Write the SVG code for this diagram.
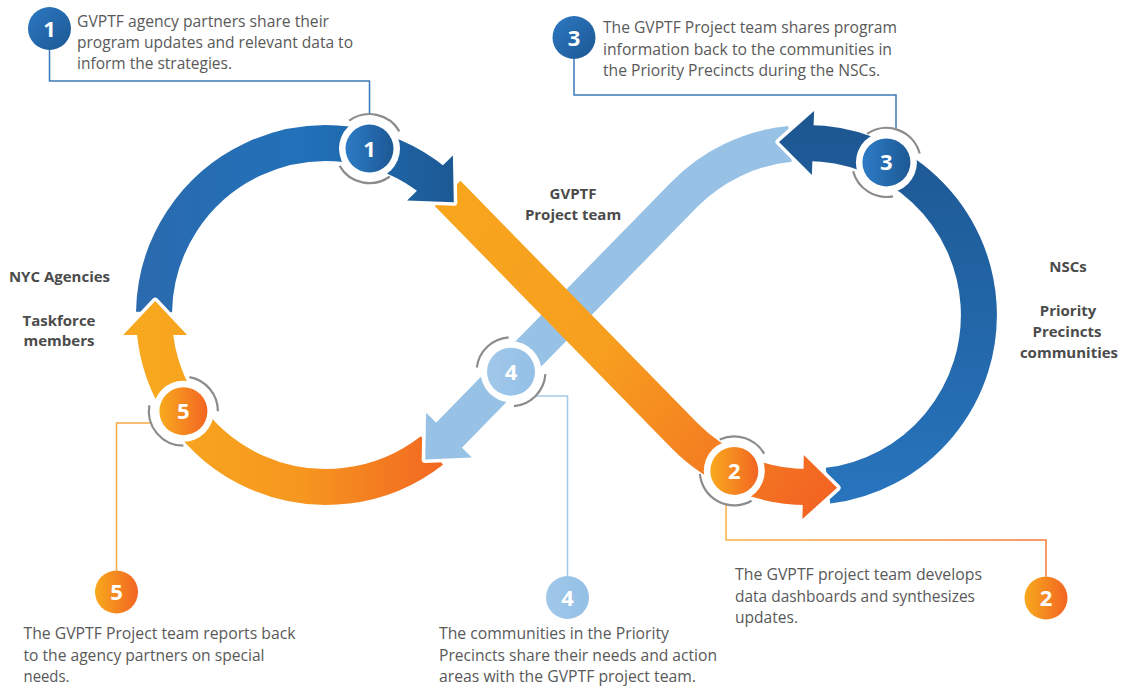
<svg xmlns="http://www.w3.org/2000/svg" width="1121" height="687" viewBox="0 0 1121 687">
  <defs>
    <style>
      .txt { font-family: "Open Sans", "Liberation Sans", sans-serif; font-size: 16px; fill: #595959; }
      .lbl { font-family: "Open Sans", "Liberation Sans", sans-serif; font-size: 15px; font-weight: 700; fill: #4b4b4b; text-anchor: middle; }
      .num { font-family: "Open Sans", "Liberation Sans", sans-serif; font-size: 22px; font-weight: 700; fill: #ffffff; text-anchor: middle; }
      .band { fill: none; stroke-width: 36; stroke-linecap: butt; }
      .halo { fill: none; stroke: #ffffff; stroke-width: 7; stroke-linejoin: round; stroke-linecap: round; }
      .ring { fill: none; stroke: #8c8c8c; stroke-width: 2.2; }
      .lead { fill: none; stroke-width: 1.5; }
    </style>
    <linearGradient id="gBlueL" gradientUnits="userSpaceOnUse" x1="137" y1="0" x2="470" y2="0">
      <stop offset="0" stop-color="#2b6aae"/>
      <stop offset="0.5" stop-color="#2171b9"/>
      <stop offset="1" stop-color="#1c5690"/>
    </linearGradient>
    <linearGradient id="gBlueR" gradientUnits="userSpaceOnUse" x1="0" y1="110" x2="0" y2="510">
      <stop offset="0" stop-color="#1c5690"/>
      <stop offset="1" stop-color="#2875be"/>
    </linearGradient>
    <linearGradient id="gOrangeD" gradientUnits="userSpaceOnUse" x1="440" y1="190" x2="840" y2="490">
      <stop offset="0" stop-color="#f8a61e"/>
      <stop offset="0.45" stop-color="#f79f1f"/>
      <stop offset="1" stop-color="#f26322"/>
    </linearGradient>
    <linearGradient id="gOrangeB" gradientUnits="userSpaceOnUse" x1="150" y1="0" x2="450" y2="0">
      <stop offset="0" stop-color="#f8a81e"/>
      <stop offset="0.5" stop-color="#f6971f"/>
      <stop offset="1" stop-color="#f26522"/>
    </linearGradient>
    <linearGradient id="gDiskBlue" x1="0" y1="0" x2="1" y2="0">
      <stop offset="0" stop-color="#2d7cc6"/>
      <stop offset="1" stop-color="#1d5894"/>
    </linearGradient>
    <linearGradient id="gDiskBlueD" x1="0" y1="0" x2="1" y2="1">
      <stop offset="0" stop-color="#2c78c2"/>
      <stop offset="1" stop-color="#1d5893"/>
    </linearGradient>
    <linearGradient id="gDiskOrange" x1="0" y1="0" x2="1" y2="0">
      <stop offset="0" stop-color="#f8a91e"/>
      <stop offset="1" stop-color="#f26522"/>
    </linearGradient>
    <linearGradient id="gDiskLight" x1="0" y1="0" x2="1" y2="0">
      <stop offset="0" stop-color="#a0c8ea"/>
      <stop offset="1" stop-color="#94c0e6"/>
    </linearGradient>
    <linearGradient id="gLead2" gradientUnits="userSpaceOnUse" x1="726" y1="0" x2="1046" y2="0">
      <stop offset="0" stop-color="#f9b040"/>
      <stop offset="1" stop-color="#f47a38"/>
    </linearGradient>
  </defs>

  <rect width="1121" height="687" fill="#ffffff"/>

  <!-- figure-eight loop: band bodies first, arrowheads on top -->
  <g id="loop">
    <path class="band" stroke="url(#gBlueL)" d="M154.03,312 A172,172 0 0 1 434.7,181.7"/>
    <path class="band" stroke="url(#gBlueR)" d="M828,485.7 A172,172 0 0 0 807,143"/>
    <path class="band" stroke="#97c2e6" d="M790,143.8 A172,172 0 0 0 684,194.8 L444.8,439.5"/>
    <path class="band" stroke="url(#gOrangeB)" d="M431.9,450.5 A172,172 0 0 1 154.4,327"/>
    <path class="band" stroke="url(#gOrangeD)" d="M447.6,193.4 L684,435.2 A172,172 0 0 0 809.1,487"/>

    <!-- arrowheads: white halo on the two flanks, then the fill -->
    <polyline class="halo" points="407.1,200.4 453.8,202.3 452.9,155.6"/>
    <polygon fill="url(#gBlueL)" points="407.1,200.4 453.8,202.3 452.9,155.6"/>

    <polyline class="halo" points="802.4,519 837.1,487.8 803.8,455"/>
    <polygon fill="url(#gOrangeD)" points="802.4,519 837.1,487.8 803.8,455"/>

    <polyline class="halo" points="814.1,111.1 779,141.9 811.9,175.1"/>
    <polygon fill="url(#gBlueR)" points="814.1,111.1 779,141.9 811.9,175.1"/>

    <polyline class="halo" points="426.1,412.8 425.2,459.5 471.9,457.6"/>
    <polygon fill="#97c2e6" points="426.1,412.8 425.2,459.5 471.9,457.6"/>

    <polyline class="halo" points="187.2,335.1 155.2,301.1 123.2,335.1"/>
    <polygon fill="url(#gOrangeB)" points="187.2,335.1 155.2,301.1 123.2,335.1"/>
  </g>

  <!-- leader lines from the loop markers to the callouts -->
  <g id="connectors">
    <path class="lead" stroke="#3a78b9" d="M49.5,50 V81 H369.5 V114"/>
    <path class="lead" stroke="#3a78b9" d="M574,59 V95 H896 V129.3"/>
    <path class="lead" stroke="url(#gLead2)" d="M726,504.4 V540 H1046 V576.5"/>
    <path class="lead" stroke="#a5cae9" d="M535.5,396 H567.5 V576"/>
    <path class="lead" stroke="#f7a843" d="M151,423 H116.5 V570.5"/>
  </g>

  <!-- markers on the loop -->
  <g id="step-1">
    <circle cx="369.5" cy="148.6" r="30.5" fill="#ffffff"/>
    <path class="ring" d="M349.2,120.7 A34.5,34.5 0 0 1 399.4,131.35"/>
    <path class="ring" d="M389.8,176.5 A34.5,34.5 0 0 1 339.6,165.85"/>
    <circle cx="369.5" cy="148.6" r="24" fill="url(#gDiskBlue)"/>
    <text class="num" x="369.5" y="156.6">1</text>
  </g>
  <g id="step-2">
    <circle cx="734.3" cy="470.9" r="30.5" fill="#ffffff"/>
    <path class="ring" d="M719.7,439.6 A34.5,34.5 0 0 1 764.2,453.65"/>
    <path class="ring" d="M751.55,500.8 A34.5,34.5 0 0 1 699.9,473.9"/>
    <circle cx="734.3" cy="470.9" r="24" fill="url(#gDiskOrange)"/>
    <text class="num" x="734.3" y="478.9">2</text>
  </g>
  <g id="step-3">
    <circle cx="886.4" cy="162.4" r="30.5" fill="#ffffff"/>
    <path class="ring" d="M867.1,133.8 A34.5,34.5 0 0 1 919.7,153.5"/>
    <path class="ring" d="M893,196.3 A34.5,34.5 0 0 1 853.1,171.3"/>
    <circle cx="886.4" cy="162.4" r="24" fill="url(#gDiskBlue)"/>
    <text class="num" x="886.4" y="170.4">3</text>
  </g>
  <g id="step-4">
    <circle cx="511" cy="371.7" r="30.5" fill="#ffffff"/>
    <path class="ring" d="M476.8,367.5 A34.5,34.5 0 0 1 508.6,337.3"/>
    <path class="ring" d="M545.4,374.1 A34.5,34.5 0 0 1 514,406.1"/>
    <circle cx="511" cy="371.7" r="24" fill="url(#gDiskLight)"/>
    <text class="num" x="511" y="379.7">4</text>
  </g>
  <g id="step-5">
    <circle cx="183.4" cy="411.2" r="30.5" fill="#ffffff"/>
    <path class="ring" d="M189.4,377.2 A34.5,34.5 0 0 1 217.9,411.2"/>
    <path class="ring" d="M183.4,445.7 A34.5,34.5 0 0 1 149.4,405.2"/>
    <circle cx="183.4" cy="411.2" r="24" fill="url(#gDiskOrange)"/>
    <text class="num" x="183.4" y="419.2">5</text>
  </g>

  <!-- callouts -->
  <g id="callout-1">
    <circle cx="49.5" cy="28.5" r="21.5" fill="url(#gDiskBlueD)"/>
    <text class="num" x="49.5" y="36.5">1</text>
    <text class="txt" x="77" y="26.5" textLength="252" lengthAdjust="spacingAndGlyphs">GVPTF agency partners share their</text>
    <text class="txt" x="77" y="47.5" textLength="276" lengthAdjust="spacingAndGlyphs">program updates and relevant data to</text>
    <text class="txt" x="77" y="68.5" textLength="155" lengthAdjust="spacingAndGlyphs">inform the strategies.</text>
  </g>
  <g id="callout-3">
    <circle cx="574" cy="37.5" r="21.5" fill="url(#gDiskBlueD)"/>
    <text class="num" x="574" y="45.5">3</text>
    <text class="txt" x="603" y="33" textLength="294" lengthAdjust="spacingAndGlyphs">The GVPTF Project team shares program</text>
    <text class="txt" x="603" y="54.5" textLength="289" lengthAdjust="spacingAndGlyphs">information back to the communities in</text>
    <text class="txt" x="603" y="76" textLength="277" lengthAdjust="spacingAndGlyphs">the Priority Precincts during the NSCs.</text>
  </g>
  <g id="callout-2">
    <circle cx="1046" cy="598" r="21.5" fill="url(#gDiskOrange)"/>
    <text class="num" x="1046" y="606">2</text>
    <text class="txt" x="735" y="580" textLength="247" lengthAdjust="spacingAndGlyphs">The GVPTF project team develops</text>
    <text class="txt" x="735" y="601.5" textLength="240" lengthAdjust="spacingAndGlyphs">data dashboards and synthesizes</text>
    <text class="txt" x="735" y="623" textLength="63" lengthAdjust="spacingAndGlyphs">updates.</text>
  </g>
  <g id="callout-4">
    <circle cx="567.5" cy="597.5" r="21.5" fill="url(#gDiskLight)"/>
    <text class="num" x="567.5" y="605.5">4</text>
    <text class="txt" x="439" y="639" textLength="230" lengthAdjust="spacingAndGlyphs">The communities in the Priority</text>
    <text class="txt" x="439" y="660.5" textLength="278" lengthAdjust="spacingAndGlyphs">Precincts share their needs and action</text>
    <text class="txt" x="439" y="682" textLength="257" lengthAdjust="spacingAndGlyphs">areas with the GVPTF project team.</text>
  </g>
  <g id="callout-5">
    <circle cx="116.5" cy="592" r="21.5" fill="url(#gDiskOrange)"/>
    <text class="num" x="116.5" y="600">5</text>
    <text class="txt" x="23.5" y="639" textLength="272" lengthAdjust="spacingAndGlyphs">The GVPTF Project team reports back</text>
    <text class="txt" x="23.5" y="660.5" textLength="241" lengthAdjust="spacingAndGlyphs">to the agency partners on special</text>
    <text class="txt" x="23.5" y="682" textLength="46" lengthAdjust="spacingAndGlyphs">needs.</text>
  </g>

  <!-- actor labels -->
  <g id="label-agencies">
    <text class="lbl" x="59.5" y="282">NYC Agencies</text>
    <text class="lbl" x="59" y="325.5">Taskforce</text>
    <text class="lbl" x="59" y="346">members</text>
  </g>
  <g id="label-project-team">
    <text class="lbl" x="573" y="199">GVPTF</text>
    <text class="lbl" x="573" y="220">Project team</text>
  </g>
  <g id="label-communities">
    <text class="lbl" x="1068" y="272">NSCs</text>
    <text class="lbl" x="1068" y="316">Priority</text>
    <text class="lbl" x="1067" y="337">Precincts</text>
    <text class="lbl" x="1069" y="358">communities</text>
  </g>
</svg>
